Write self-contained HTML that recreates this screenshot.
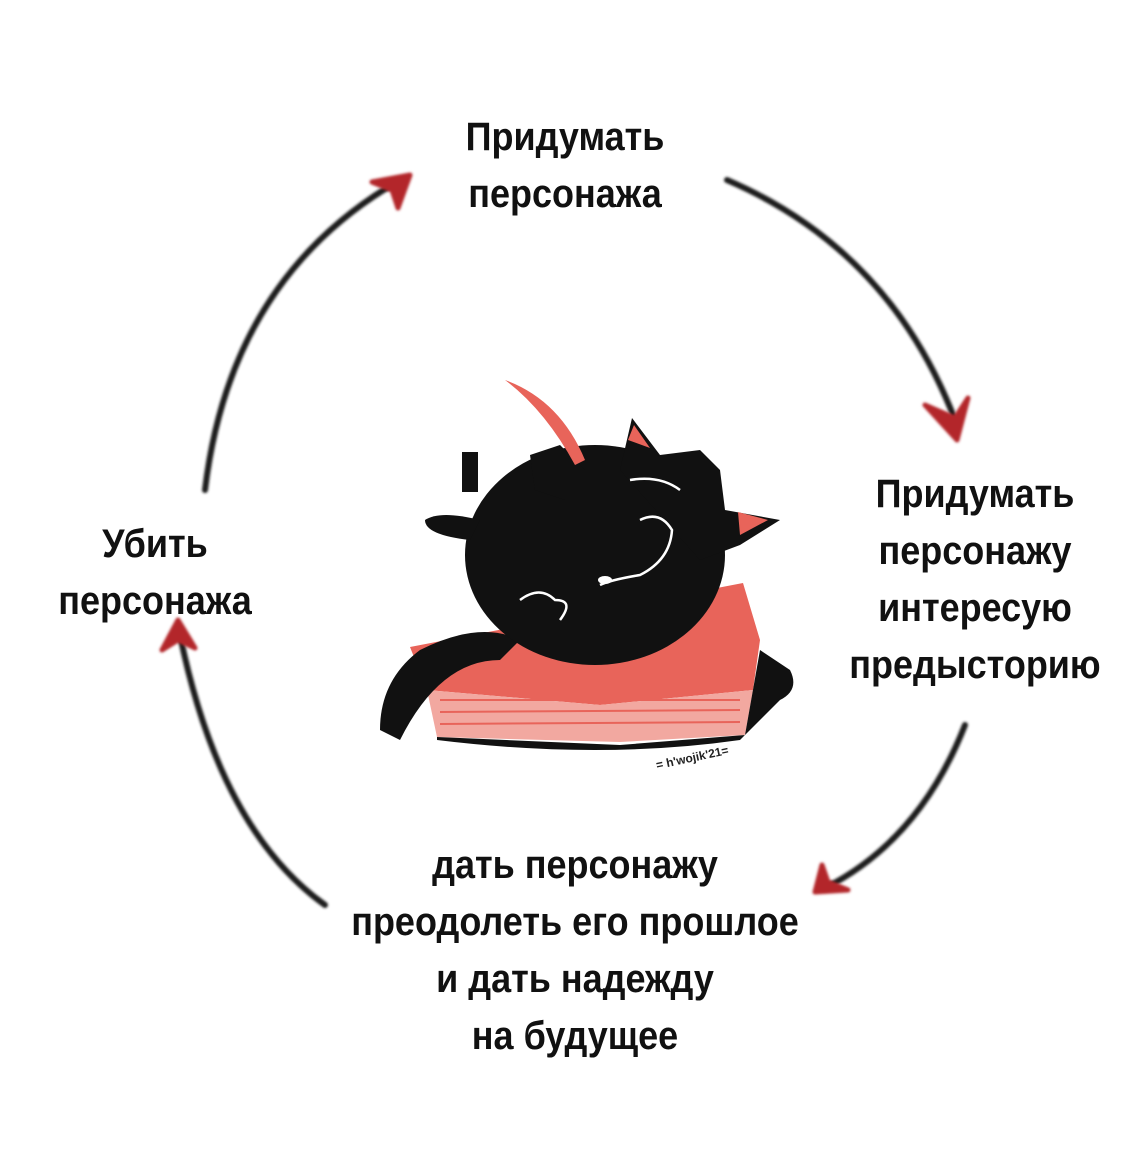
<!DOCTYPE html>
<html><head><meta charset="utf-8"><style>
html,body{margin:0;padding:0;background:#fff}
body{width:1145px;height:1164px;position:relative;overflow:hidden;font-family:"Liberation Sans Narrow","Liberation Sans",sans-serif;font-weight:bold;color:#111}
.t{position:absolute;text-align:center;font-size:40px;line-height:57px;letter-spacing:0px;transform:scaleX(0.9);transform-origin:center}
</style></head><body>
<svg width="1145" height="1164" style="position:absolute;left:0;top:0">
<defs><filter id="b"><feGaussianBlur stdDeviation="1.3"/></filter></defs>
<g filter="url(#b)" fill="none" stroke="#1a1a1a" stroke-width="6" stroke-linecap="round">
<path d="M205 490 Q230 280 395 183"/>
<path d="M727 180 Q890 250 955 420"/>
<path d="M965 725 Q920 840 825 888"/>
<path d="M325 905 Q220 830 180 635"/>
</g>
<g filter="url(#b)" fill="#b3282a" stroke="#b3282a" stroke-width="5" stroke-linecap="round" stroke-linejoin="round">
<path d="M372 182 L410 175 L398 208 L392 190Z"/>
<path d="M925 405 L957 440 L968 398 L955 418Z"/>
<path d="M822 865 L815 892 L848 890 L828 882Z"/>
<path d="M162 650 L178 620 L195 648 L178 640Z"/>
</g>
<!-- book -->
<polygon points="410,647 743,583 760,640 753,690 600,705 427,690" fill="#e8645a"/>
<polygon points="427,690 600,705 753,690 745,735 620,742 437,737" fill="#f2a8a0"/>
<g stroke="#e8645a" stroke-width="2"><line x1="440" y1="700" x2="740" y2="700"/><line x1="440" y1="712" x2="740" y2="710"/><line x1="440" y1="724" x2="740" y2="722"/></g>
<path d="M437 740 Q600 760 740 740 L780 700 Q800 690 790 670 L760 650 L745 735 L620 745 L437 737Z" fill="#111"/>
<path d="M380 730 Q380 680 420 650 Q480 620 520 640 L500 660 Q440 660 400 740Z" fill="#111"/>
<ellipse cx="595" cy="555" rx="130" ry="110" fill="#111"/>
<path d="M620 470 L632 418 L660 455 L700 450 L720 470 L725 510 L780 520 L740 545 L700 560Z" fill="#111"/>
<polygon points="628,440 634,425 650,448" fill="#e8645a"/>
<polygon points="738,512 768,520 740,535" fill="#e8645a"/>
<path d="M480 520 Q440 510 425 520 Q425 535 470 540Z" fill="#111"/>
<rect x="462" y="452" width="16" height="40" fill="#111"/>
<path d="M530 455 L560 445 L585 470 L565 500 L535 490Z" fill="#111"/>
<path d="M505 380 Q560 400 585 460 L575 465 Q545 410 505 380Z" fill="#e8645a"/>
<g fill="none" stroke="#fff" stroke-width="2.5">
<path d="M640 520 Q660 510 672 530 Q670 560 640 575 Q610 580 600 585"/>
<path d="M630 480 Q660 475 680 490"/>
<path d="M520 600 Q540 585 555 600 Q575 600 560 620"/>
</g>
<ellipse cx="605" cy="580" rx="7" ry="4" fill="#fff"/>
<text x="655" y="760" font-family="Liberation Sans" font-size="12" fill="#222" transform="rotate(-12 700 755)">= h'wojik'21=</text>
</svg>
<div class="t" style="left:415px;top:109px;width:300px">Придумать<br>персонажа</div>
<div class="t" style="left:820px;top:466px;width:310px">Придумать<br>персонажу<br>интересую<br>предысторию</div>
<div class="t" style="left:320px;top:837px;width:510px">дать персонажу<br>преодолеть его прошлое<br>и дать надежду<br>на будущее</div>
<div class="t" style="left:20px;top:516px;width:270px">Убить<br>персонажа</div>
</body></html>
